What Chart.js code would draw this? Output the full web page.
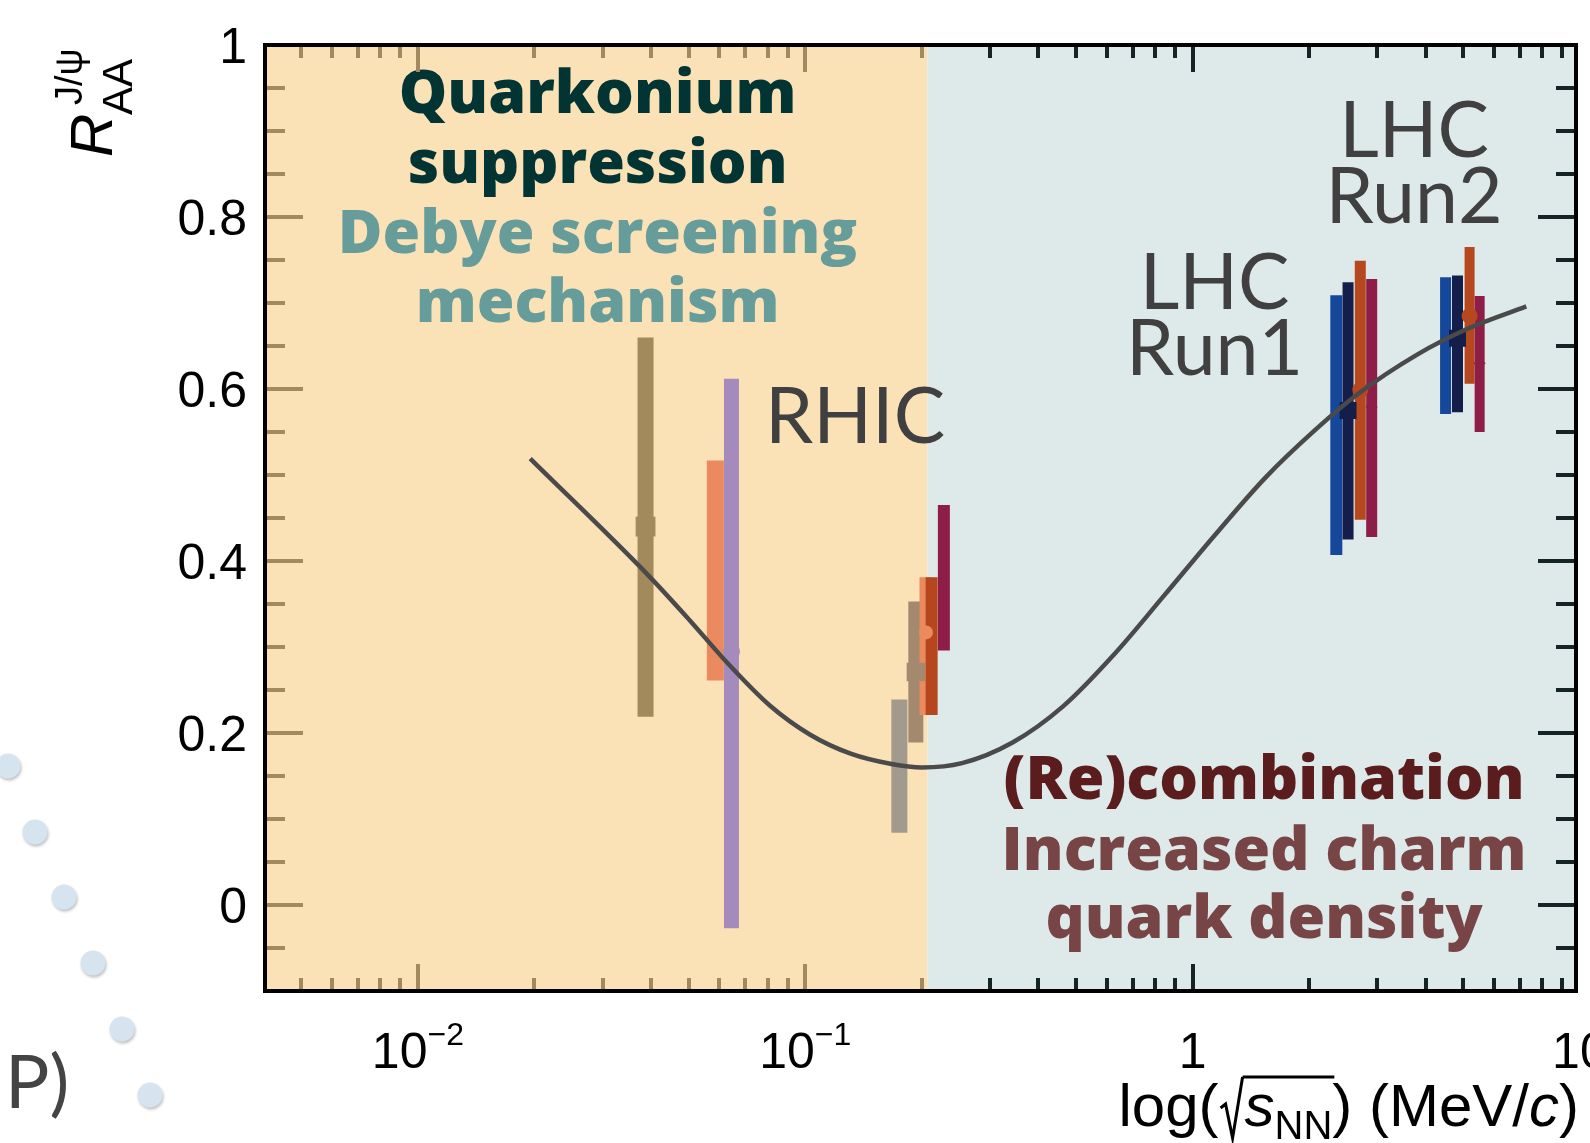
<!DOCTYPE html>
<html>
<head>
<meta charset="utf-8">
<title>J/psi R_AA versus collision energy</title>
<script src="https://cdn.jsdelivr.net/npm/chart.js@4.4.1/dist/chart.umd.min.js"></script>
<style>
  html, body { margin: 0; padding: 0; background: #fff; }
  #wrap { width: 1590px; height: 1143px; }
</style>
</head>
<body>
<div id="wrap"><canvas id="raa" width="1590" height="1143"></canvas></div>
<script>
// measurements: energy, R_AA band (low/high) and central value
var energy     = [0.0387, 0.0586, 0.0645, 0.175, 0.193, 0.205, 0.212, 0.228, 2.35, 2.52, 2.71, 2.90, 4.50, 4.83, 5.19, 5.51];
var raaLow     = [0.219, 0.261, -0.027, 0.084, 0.189, 0.221, 0.221, 0.296, 0.407, 0.425, 0.448, 0.428, 0.571, 0.573, 0.606, 0.550];
var raaHigh    = [0.660, 0.517, 0.612, 0.239, 0.353, 0.381, 0.381, 0.465, 0.709, 0.724, 0.749, 0.728, 0.730, 0.732, 0.765, 0.708];
var raaCentral = [0.440, 0.381, 0.295, null, 0.271, 0.317, null, 0.381, null, 0.575, 0.599, 0.579, null, 0.659, 0.685, 0.630];

// model curve
var curveX = [0.0195, 0.0394, 0.0501, 0.0637, 0.0810, 0.103, 0.131, 0.167, 0.200, 0.254, 0.343, 0.463, 0.626, 0.845, 1.141, 1.542, 2.08, 2.65, 3.80, 5.13, 7.27];
var curveY = [0.519, 0.383, 0.332, 0.279, 0.232, 0.198, 0.176, 0.164, 0.160, 0.165, 0.189, 0.231, 0.291, 0.360, 0.430, 0.497, 0.553, 0.593, 0.640, 0.670, 0.696];

var yTicks = [0, 0.2, 0.4, 0.6, 0.8, 1];
var yTickLabels = ['0', '0.2', '0.4', '0.6', '0.8', '1'];
var xTicks = [0.01, 0.1, 1, 10];
var xTickLabels = [['10', '\u22122'], ['10', '\u22121'], ['1', ''], ['10', '']];

// suppression / recombination boundary
var regionSplit = 0.207;

// look of each measurement
var barStyle = [
  { c: '#a38a5c', w: 16, m: 'rect', r: 14 },
  { c: '#ea8a5e', w: 17, m: 'rectRot', r: 4 },
  { c: '#a58bbb', w: 15, m: 'circle', r: 8.5 },
  { c: '#a39a8e', w: 16 },
  { c: '#a38a6e', w: 15, m: 'rect', r: 13 },
  { c: '#ea8a5e', w: 13, m: 'circle', r: 7 },
  { c: '#b5461e', w: 12 },
  { c: '#8e1d48', w: 12, m: 'rectRot', r: 5 },
  { c: '#15489a', w: 12 },
  { c: '#141e4a', w: 11, m: 'rect', r: 12 },
  { c: '#b5481e', w: 11, m: 'circle', r: 8 },
  { c: '#8e1d48', w: 11, m: 'rectRot', r: 6 },
  { c: '#15489a', w: 11 },
  { c: '#141e4a', w: 11, m: 'rect', r: 12 },
  { c: '#b5481e', w: 10, m: 'circle', r: 8 },
  { c: '#8e1d48', w: 10, m: 'rectRot', r: 6 }
];

var BOLD = '800 61px "Open Sans", sans-serif';
var THIN = '77px Lato, sans-serif';
var notes = [
  { t: 'Quarkonium',      x: 0.0291, y: 0.921,  f: BOLD, c: '#023434' },
  { t: 'suppression',     x: 0.0291, y: 0.840,  f: BOLD, c: '#023434' },
  { t: 'Debye screening', x: 0.0291, y: 0.758,  f: BOLD, c: '#669c9a' },
  { t: 'mechanism',       x: 0.0291, y: 0.678,  f: BOLD, c: '#669c9a' },
  { t: 'RHIC',            x: 0.1345, y: 0.537,  f: THIN, c: '#404040' },
  { t: 'LHC',             x: 1.14,   y: 0.693,  f: THIN, c: '#404040' },
  { t: 'Run1',            x: 1.14,   y: 0.616,  f: THIN, c: '#404040' },
  { t: 'LHC',             x: 3.73,   y: 0.870,  f: THIN, c: '#404040' },
  { t: 'Run2',            x: 3.73,   y: 0.793,  f: THIN, c: '#404040' },
  { t: '(Re)combination', x: 1.53,   y: 0.123,  f: BOLD, c: '#5a1c1c' },
  { t: 'Increased charm', x: 1.53,   y: 0.041,  f: BOLD, c: '#774545' },
  { t: 'quark density',   x: 1.53,   y: -0.038, f: BOLD, c: '#774545' }
];

var datasets = [];
datasets.push({
  data: curveX.map(function (x, i) { return { x: x, y: curveY[i] }; }),
  showLine: true, borderColor: '#4a4a4a', borderWidth: 4.5,
  cubicInterpolationMode: 'monotone', pointRadius: 0, order: 0
});
energy.forEach(function (x, i) {
  var s = barStyle[i];
  datasets.push({
    data: [{ x: x, y: raaLow[i] }, { x: x, y: raaHigh[i] }],
    showLine: true, borderColor: s.c, borderWidth: s.w, borderCapStyle: 'butt',
    pointRadius: 0, order: 100 - i
  });
  if (raaCentral[i] !== null) {
    datasets.push({
      data: [{ x: x, y: raaCentral[i] }],
      pointStyle: s.m, pointRadius: s.r, backgroundColor: s.c, borderColor: s.c,
      borderWidth: 0, order: 10
    });
  }
});

var LS = '"Liberation Sans", Arial, sans-serif';
var BROWN = '#a38a5e', DARK = '#152424';

var backdrop = {
  id: 'backdrop',
  beforeDatasetsDraw: function (chart) {
    var ctx = chart.ctx, a = chart.chartArea, xs = chart.scales.x, ys = chart.scales.y;
    var split = xs.getPixelForValue(regionSplit);
    ctx.save();
    ctx.fillStyle = '#fae2b6';
    ctx.fillRect(a.left, a.top, split - a.left, a.bottom - a.top);
    ctx.fillStyle = '#dee9e9';
    ctx.fillRect(split, a.top, a.right - split, a.bottom - a.top);
    ctx.textAlign = 'center';
    ctx.textBaseline = 'alphabetic';
    notes.forEach(function (n) {
      ctx.font = n.f;
      ctx.fillStyle = n.c;
      ctx.fillText(n.t, xs.getPixelForValue(n.x), ys.getPixelForValue(n.y));
    });
    ctx.restore();
  }
};

var frame = {
  id: 'frame',
  afterDatasetsDraw: function (chart) {
    var ctx = chart.ctx, a = chart.chartArea, xs = chart.scales.x, ys = chart.scales.y;
    ctx.save();
    ctx.lineWidth = 4;
    // y ticks, minor every 0.05
    for (var i = -1; i < 20; i++) {
      var py = Math.round(ys.getPixelForValue(i * 0.05));
      var len = (i % 4 === 0) ? 38 : 20;
      ctx.strokeStyle = BROWN;
      ctx.beginPath(); ctx.moveTo(a.left, py); ctx.lineTo(a.left + len, py); ctx.stroke();
      ctx.strokeStyle = DARK;
      ctx.beginPath(); ctx.moveTo(a.right, py); ctx.lineTo(a.right - len, py); ctx.stroke();
    }
    // x ticks, log decades
    for (var d = -3; d <= 0; d++) {
      for (var m = 1; m <= 9; m++) {
        var v = m * Math.pow(10, d);
        if (v <= xs.min || v >= xs.max) continue;
        var px = Math.round(xs.getPixelForValue(v));
        var l = (m === 1) ? 27 : 13;
        ctx.strokeStyle = v < regionSplit ? BROWN : DARK;
        ctx.beginPath(); ctx.moveTo(px, a.bottom); ctx.lineTo(px, a.bottom - l); ctx.stroke();
        ctx.beginPath(); ctx.moveTo(px, a.top); ctx.lineTo(px, a.top + l); ctx.stroke();
      }
    }
    ctx.strokeStyle = '#000';
    ctx.lineWidth = 4;
    ctx.strokeRect(a.left, a.top, a.right - a.left, a.bottom - a.top);
    ctx.restore();
  },
  afterDraw: function (chart) {
    var ctx = chart.ctx, a = chart.chartArea, xs = chart.scales.x, ys = chart.scales.y;
    ctx.save();
    ctx.fillStyle = '#000';
    ctx.textBaseline = 'alphabetic';

    // y tick labels
    ctx.font = '50px ' + LS;
    ctx.textAlign = 'right';
    yTicks.forEach(function (v, i) {
      ctx.fillText(yTickLabels[i], a.left - 18, ys.getPixelForValue(v) + 18);
    });

    // x tick labels with exponents
    ctx.textAlign = 'left';
    xTicks.forEach(function (v, i) {
      var base = xTickLabels[i][0], sup = xTickLabels[i][1];
      ctx.font = '50px ' + LS;
      var wb = ctx.measureText(base).width;
      ctx.font = '32px ' + LS;
      var ws = ctx.measureText(sup).width;
      var x0 = xs.getPixelForValue(v) - (wb + ws) / 2;
      ctx.font = '50px ' + LS;
      ctx.fillText(base, x0, 1068);
      ctx.font = '32px ' + LS;
      ctx.fillText(sup, x0 + wb, 1045);
    });

    // x title: log(sqrt(s_NN)) (MeV/c)
    var big = '60px ' + LS, ital = 'italic 60px ' + LS, small = '40px ' + LS;
    var base = 1126;
    var parts = [
      { t: 'log(', f: big }, { rad: true, w: 26 }, { t: 's', f: ital },
      { t: 'NN', f: small, dy: 13 }, { bar: true }, { t: ') (MeV/', f: big },
      { t: 'c', f: ital }, { t: ')', f: big }
    ];
    var total = 0;
    parts.forEach(function (p) {
      if (p.t) { ctx.font = p.f; p.w = ctx.measureText(p.t).width; }
      if (p.bar) p.w = 0;
      total += p.w;
    });
    var x = 1579 - total, radStart = 0;
    ctx.strokeStyle = '#000';
    ctx.lineWidth = 3;
    parts.forEach(function (p) {
      if (p.rad) {
        ctx.beginPath();
        ctx.moveTo(x + 2, base - 18);
        ctx.lineTo(x + 7, base - 22);
        ctx.lineTo(x + 14, base + 12);
        ctx.lineTo(x + 24, base - 49);
        ctx.stroke();
        radStart = x + 24;
      } else if (p.bar) {
        ctx.beginPath();
        ctx.moveTo(radStart, base - 49);
        ctx.lineTo(x + 2, base - 49);
        ctx.stroke();
      } else {
        ctx.font = p.f;
        ctx.fillText(p.t, x, base + (p.dy || 0));
      }
      x += p.w;
    });

    // y title: R_AA^{J/psi}, rotated
    ctx.translate(112, 157);
    ctx.rotate(-Math.PI / 2);
    ctx.font = 'italic 60px ' + LS;
    ctx.fillText('R', 0, 0);
    ctx.font = '42px ' + LS;
    ctx.fillText('AA', 42, 20);
    ctx.font = '38px ' + LS;
    ctx.fillText('J/\u03c8', 52, -30);
    ctx.restore();

    // slide decoration at the lower left
    ctx.save();
    var dots = [[8, 766], [35, 832], [64, 897], [93, 963], [122, 1029], [150, 1095]];
    ctx.fillStyle = '#d6e4f0';
    ctx.shadowColor = 'rgba(0,0,0,0.25)';
    ctx.shadowBlur = 3;
    ctx.shadowOffsetX = 1;
    ctx.shadowOffsetY = 2;
    dots.forEach(function (p) {
      ctx.beginPath();
      ctx.arc(p[0], p[1], 12.5, 0, Math.PI * 2);
      ctx.fill();
    });
    ctx.restore();
    ctx.save();
    ctx.font = '74px Lato, sans-serif';
    ctx.fillStyle = '#444';
    ctx.fillText('P)', 5, 1108);
    ctx.restore();
  }
};

new Chart(document.getElementById('raa'), {
  type: 'scatter',
  data: { datasets: datasets },
  options: {
    responsive: false,
    animation: false,
    devicePixelRatio: 1,
    layout: { padding: { left: 265, right: 12, top: 45, bottom: 152 } },
    plugins: { legend: { display: false }, tooltip: { enabled: false } },
    scales: {
      x: { type: 'logarithmic', min: 0.00403, max: 9.77, display: false },
      y: { type: 'linear', min: -0.1, max: 1.0, display: false }
    }
  },
  plugins: [backdrop, frame]
});
</script>
</body>
</html>
